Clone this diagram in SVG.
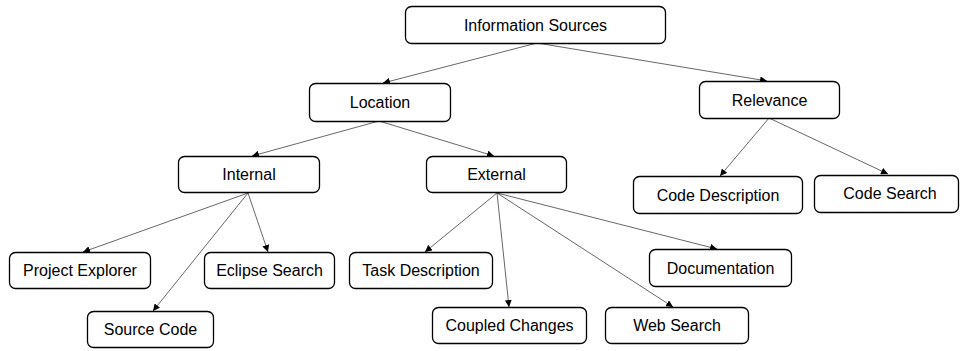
<svg xmlns="http://www.w3.org/2000/svg" width="961" height="351" viewBox="0 0 961 351">
<defs>
<marker id="ah" viewBox="0 0 10 10" refX="10" refY="5" markerWidth="7" markerHeight="7" markerUnits="userSpaceOnUse" orient="auto">
<path d="M0,0 L10,5 L0,10 z" fill="#000"/>
</marker>
<style>
.n rect{fill:#fff;stroke:#000;stroke-width:1.3}
.n text{font-family:"Liberation Sans",Arial,sans-serif;font-size:16px;fill:#000;text-anchor:middle}
#edges line{stroke:#404040;stroke-width:0.8;marker-end:url(#ah)}
</style>
</defs>
<rect width="961" height="351" fill="#fff"/>
<g id="edges">
<line x1="537" y1="43" x2="383" y2="83"/>
<line x1="537" y1="43" x2="767" y2="81"/>
<line x1="379" y1="121" x2="252" y2="156"/>
<line x1="379" y1="121" x2="494" y2="156"/>
<line x1="769" y1="118" x2="720" y2="176"/>
<line x1="769" y1="118" x2="888" y2="174"/>
<line x1="248" y1="193" x2="83" y2="252"/>
<line x1="248" y1="193" x2="268" y2="252"/>
<line x1="248" y1="193" x2="153" y2="311"/>
<line x1="497" y1="193" x2="425" y2="252"/>
<line x1="497" y1="193" x2="509" y2="307"/>
<line x1="497" y1="193" x2="673" y2="307"/>
<line x1="497" y1="193" x2="717" y2="249"/>
</g>
<g id="info" class="n"><rect x="405.5" y="6.5" width="260" height="37" rx="6"/><text x="535.5" y="30.5">Information Sources</text></g>
<g id="location" class="n"><rect x="309.5" y="83.5" width="141" height="38" rx="6"/><text x="380" y="108">Location</text></g>
<g id="relevance" class="n"><rect x="699.5" y="81.5" width="140" height="37" rx="6"/><text x="769.5" y="105.5">Relevance</text></g>
<g id="internal" class="n"><rect x="178.5" y="156.5" width="141" height="36" rx="6"/><text x="249" y="180">Internal</text></g>
<g id="external" class="n"><rect x="426.5" y="156.5" width="140" height="36" rx="6"/><text x="496.5" y="180">External</text></g>
<g id="codedesc" class="n"><rect x="633.5" y="176.5" width="169" height="37" rx="6"/><text x="718" y="200.5">Code Description</text></g>
<g id="codesearch" class="n"><rect x="814.5" y="175.5" width="144" height="37" rx="6"/><text x="890" y="199">Code Search</text></g>
<g id="projexp" class="n"><rect x="9.5" y="252.5" width="141" height="36" rx="6"/><text x="80" y="276">Project Explorer</text></g>
<g id="eclipse" class="n"><rect x="204.5" y="252.5" width="130" height="36" rx="6"/><text x="269.5" y="276">Eclipse Search</text></g>
<g id="source" class="n"><rect x="87.5" y="311.5" width="126" height="36" rx="6"/><text x="150.5" y="335">Source Code</text></g>
<g id="task" class="n"><rect x="349.5" y="252.5" width="143" height="36" rx="6"/><text x="421" y="276">Task Description</text></g>
<g id="coupled" class="n"><rect x="432.5" y="307.5" width="154" height="36" rx="6"/><text x="509.5" y="331">Coupled Changes</text></g>
<g id="web" class="n"><rect x="605.5" y="307.5" width="143" height="36" rx="6"/><text x="677" y="331">Web Search</text></g>
<g id="doc" class="n"><rect x="649.5" y="249.5" width="142" height="37" rx="6"/><text x="720.5" y="273.5">Documentation</text></g>
</svg>
